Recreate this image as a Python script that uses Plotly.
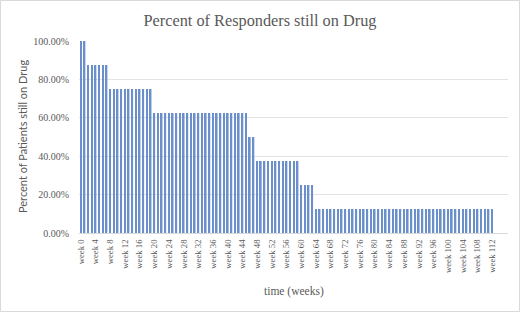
import plotly.graph_objects as go

weeks = list(range(0, 113))
# percent of responders still on drug (8 responders -> steps of 12.5%)
pct = ([1.0] * 2 + [0.875] * 6 + [0.75] * 12 + [0.625] * 26 + [0.5] * 2
       + [0.375] * 12 + [0.25] * 4 + [0.125] * 49)
tick_weeks = list(range(0, 113, 4))
tick_labels = ["week %d" % w for w in tick_weeks]
y_ticks = [0, 0.2, 0.4, 0.6, 0.8, 1.0]
y_labels = ["0.00%", "20.00%", "40.00%", "60.00%", "80.00%", "100.00%"]

W, H = 520, 312
L, R, T, B = 79, 12, 41, 79
pw, ph = W - L - R, H - T - B

fig = go.Figure()
fig.add_trace(go.Bar(x=weeks, y=pct, width=0.45,
                     marker=dict(color="#6A8FCB", line=dict(width=0))))

gray = "#595959"
serif = "Liberation Serif"
fig.update_layout(
    width=W, height=H,
    margin=dict(l=L, r=R, t=T, b=B),
    paper_bgcolor="white", plot_bgcolor="white",
    showlegend=False,
    title=dict(text="Percent of Responders still on Drug", x=0.5, xanchor="center",
               y=1 - 20 / H, yanchor="middle",
               font=dict(family=serif, size=16.3, color=gray)),
    xaxis=dict(range=[-0.5, 116.3], tickmode="array", tickvals=tick_weeks,
               ticktext=tick_labels, tickangle=-90, showgrid=False,
               ticks="outside", ticklen=2, tickcolor="rgba(0,0,0,0)",
               tickfont=dict(family=serif, size=8.7, color=gray),
               showline=True, linecolor="#d9d9d9", linewidth=1, zeroline=False),
    yaxis=dict(range=[0, 1.0], tickmode="array", tickvals=y_ticks, ticktext=y_labels,
               showgrid=True, gridcolor="#e3e3e3", gridwidth=1, zeroline=False,
               ticks="outside", ticklen=7, tickcolor="rgba(0,0,0,0)",
               tickfont=dict(family=serif, size=10, color=gray), showline=False),
    bargap=0.5,
)

fig.add_annotation(text="Percent of Patients still on Drug", xref="paper", yref="paper",
                   x=0, y=0.5, xshift=22 - L, textangle=-90, showarrow=False,
                   xanchor="center", yanchor="middle",
                   font=dict(family="Lato", size=11, color=gray))
fig.add_annotation(text="time (weeks)", xref="paper", yref="paper",
                   x=0.5, y=0, yshift=-(291.5 - (H - B)), showarrow=False,
                   xanchor="center", yanchor="middle",
                   font=dict(family=serif, size=11.5, color=gray))

fig.add_shape(type="rect", xref="paper", yref="paper",
              x0=(0.5 - L) / pw, x1=(W - 0.5 - L) / pw,
              y0=-(H - 0.5 - T - ph) / ph, y1=1 + (T - 0.5) / ph,
              line=dict(color="#d9d9d9", width=1), fillcolor="rgba(0,0,0,0)", layer="below")

fig.write_html("out.html", config={"displayModeBar": False},
               post_script="document.body.style.margin='0';document.body.style.overflow='hidden';")
